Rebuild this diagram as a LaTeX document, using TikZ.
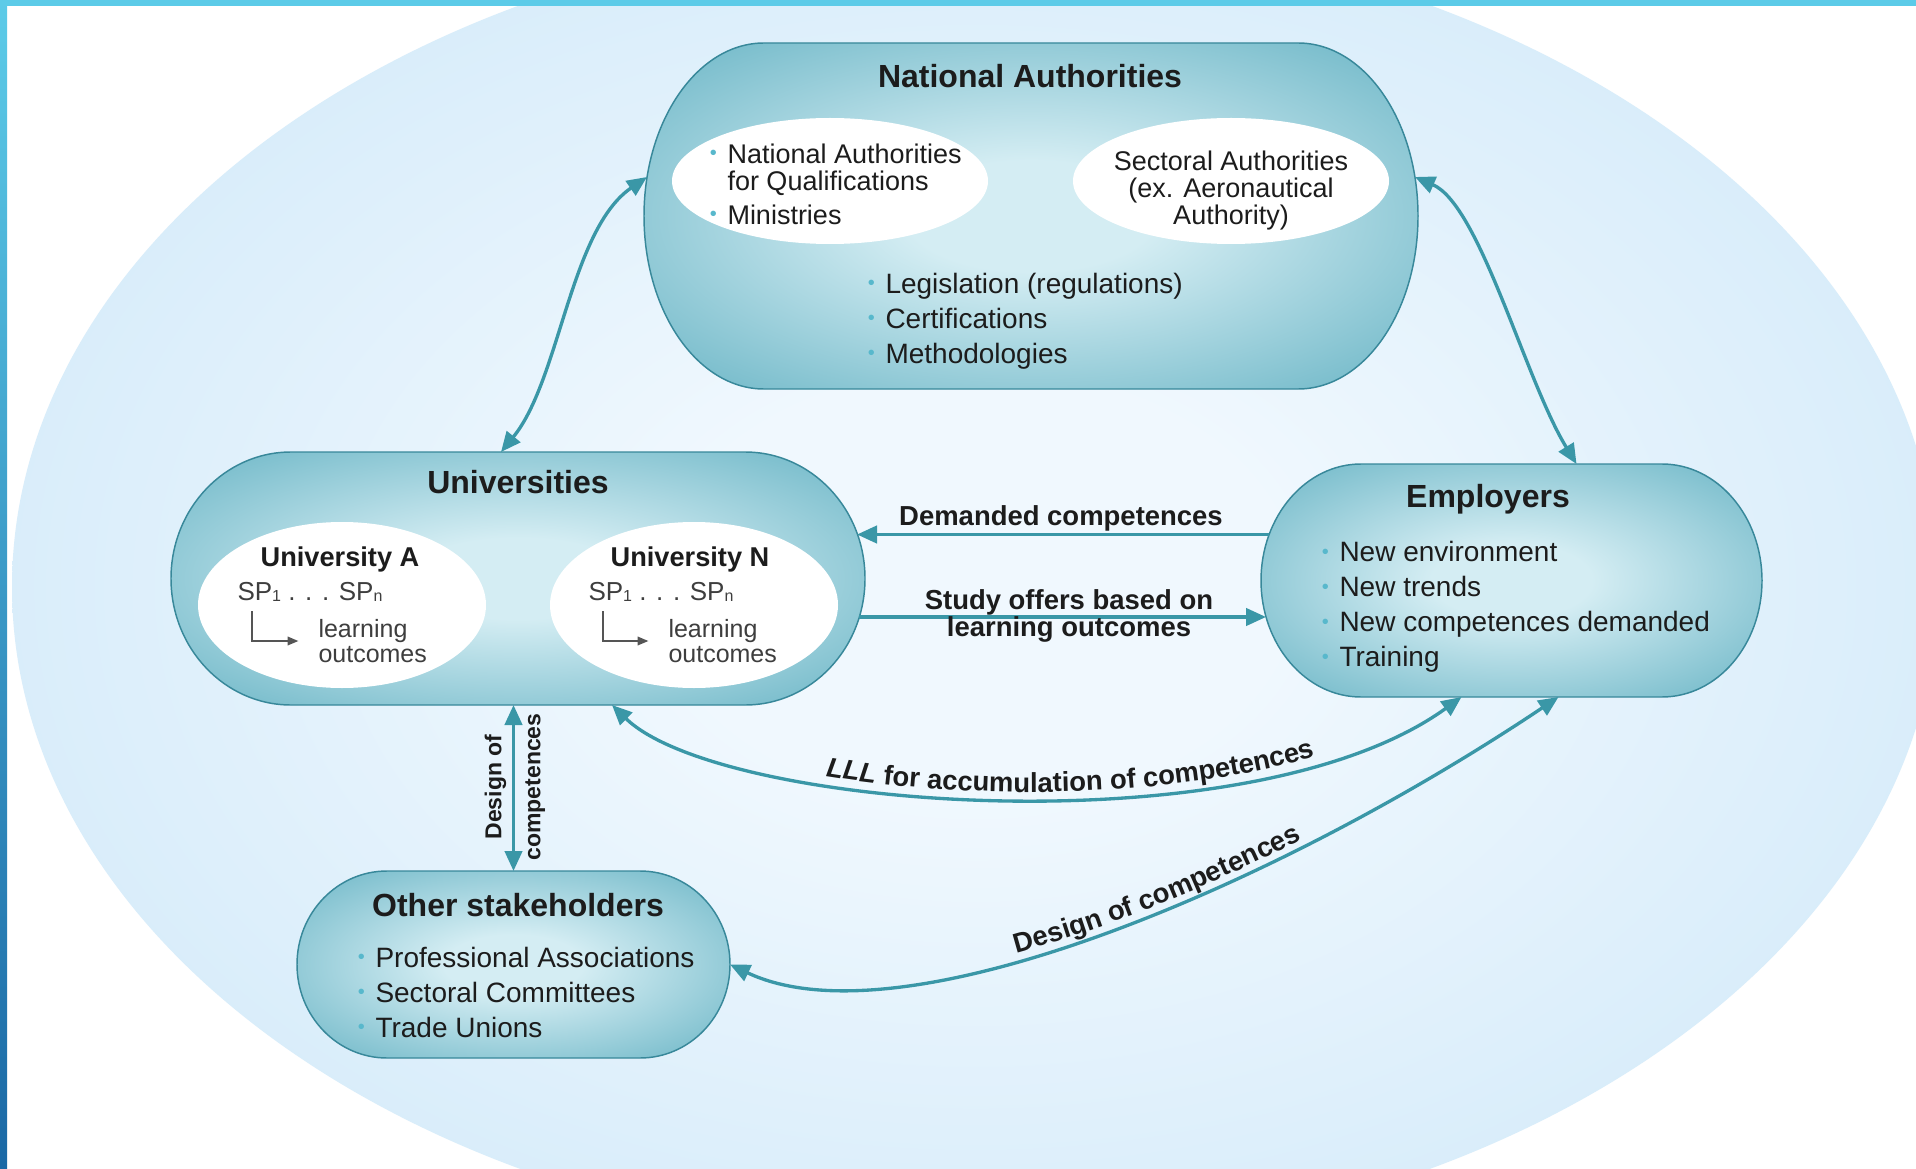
\documentclass[tikz,border=0pt]{standalone}
\usepackage{fontspec}
\setmainfont{Liberation Sans}
\usetikzlibrary{arrows.meta,calc,fit,decorations.text}

\definecolor{stripc}{RGB}{92,203,232}
\definecolor{stripd}{RGB}{26,104,165}
\definecolor{ellin}{RGB}{240,248,254}
\definecolor{ellout}{RGB}{192,225,246}
\definecolor{pillin}{RGB}{212,237,243}
\definecolor{pillout}{RGB}{70,162,182}
\definecolor{pilledge}{RGB}{56,136,154}
\definecolor{flowc}{RGB}{58,151,167}
\definecolor{bulc}{RGB}{88,184,204}
\definecolor{inkc}{RGB}{28,28,28}

\pgfdeclareradialshading{ellshade}{\pgfpoint{0bp}{0bp}}{color(0bp)=(ellin); color(8bp)=(ellin); color(44bp)=(ellout); color(72bp)=(ellout)}
\pgfdeclareradialshading{pillshade}{\pgfpoint{0bp}{0bp}}{color(0bp)=(pillin); color(8bp)=(pillin); color(45bp)=(pillout); color(72bp)=(pillout)}

\newcommand{\itembul}{\llap{\textcolor{bulc}{\raisebox{0.12em}{\fontsize{15}{15}\selectfont\textbullet}}\hspace{8pt}}}
\newcommand{\spsub}[1]{\raisebox{-1pt}{\fontsize{12}{12}\selectfont#1}}

\tikzset{every picture/.style={line width=0.75pt}}
\tikzset{
  boxarea/.style={inner sep=0pt, outer sep=0pt},
  pill/.style={shade, shading=pillshade, draw=pilledge, line width=1.1pt},
  hole/.style={fill=white},
  ttl/.style={inner sep=0.75pt, text=inkc, font=\bfseries\fontsize{24}{28}\selectfont},
  lst/.style={inner sep=0.75pt, text=inkc, align=left, font=\fontsize{21}{26.25}\selectfont},
  elltxt/.style={inner sep=0.75pt, text=inkc, font=\fontsize{20.25}{20.25}\selectfont},
  unibf/.style={inner sep=0.75pt, text=inkc, font=\bfseries\fontsize{20.4}{24}\selectfont},
  sptxt/.style={inner sep=0.75pt, text=inkc!85, font=\fontsize{19.5}{22}\selectfont},
  lotxt/.style={inner sep=0.75pt, text=inkc!85, align=left, font=\fontsize{18.75}{18.75}\selectfont},
  lbl/.style={inner sep=0.75pt, text=inkc, align=center, font=\bfseries\fontsize{20.6}{20}\selectfont},
  vlbl/.style={inner sep=0.75pt, text=inkc, align=center, font=\bfseries\fontsize{17.25}{29.25}\selectfont},
  flow/.style={draw=flowc, line width=2.5pt, >={Triangle[length=15pt,width=13pt]}},
  elbow/.style={draw=inkc!75, line width=1pt, -{Triangle[length=8pt,width=6.5pt]}, shorten >=14pt},
  curvelbl/.style={decorate, decoration={text along path, text align=center, raise=4.5pt, text color=inkc, #1}}
}

\begin{document}
\begin{tikzpicture}[x=0.75pt,y=0.75pt,yscale=-1,xscale=1]
\useasboundingbox (0,0) rectangle (1916,1169);

%Background
\fill[white] (0,0) rectangle (1916,1169);
%Shape: Ellipse
\begin{scope}
\clip (7,6) rectangle (1916,1169);
\shade[shading=ellshade] (975,587) ellipse [x radius=963, y radius=660];
\end{scope}
%Frame strips
\fill[stripc] (0,0) rectangle (1916,6);
\shade[top color=stripc, bottom color=stripd] (0,0) rectangle (7,1169);

%Box areas
\node[boxarea, fit={(644,43) (1418,389)}] (na) {};
\node[boxarea, fit={(171,452) (865,705)}] (uni) {};
\node[boxarea, fit={(1261,464) (1762,697)}] (emp) {};
\node[boxarea, fit={(297,871) (730,1058)}] (oth) {};

%Shape: Pill [National Authorities]
\draw[pill] (764,43) -- (1298,43) .. controls (1364.3,43) and (1418,120.5) .. (1418,216) .. controls (1418,311.5) and (1364.3,389) .. (1298,389) -- (764,389) .. controls (697.7,389) and (644,311.5) .. (644,216) .. controls (644,120.5) and (697.7,43) .. (764,43) -- cycle ;
%Shape: Pill [Universities]
\draw[pill] (291,452) -- (745,452) .. controls (811.3,452) and (865,508.6) .. (865,578.5) .. controls (865,648.4) and (811.3,705) .. (745,705) -- (291,705) .. controls (224.7,705) and (171,648.4) .. (171,578.5) .. controls (171,508.6) and (224.7,452) .. (291,452) -- cycle ;
%Shape: Pill [Employers]
\draw[pill] (1361,464) -- (1662,464) .. controls (1717.2,464) and (1762,516.2) .. (1762,580.5) .. controls (1762,644.8) and (1717.2,697) .. (1662,697) -- (1361,697) .. controls (1305.8,697) and (1261,644.8) .. (1261,580.5) .. controls (1261,516.2) and (1305.8,464) .. (1361,464) -- cycle ;
%Shape: Pill [Other stakeholders]
\draw[pill] (387,871) -- (640,871) .. controls (689.7,871) and (730,912.9) .. (730,964.5) .. controls (730,1016.1) and (689.7,1058) .. (640,1058) -- (387,1058) .. controls (337.3,1058) and (297,1016.1) .. (297,964.5) .. controls (297,912.9) and (337.3,871) .. (387,871) -- cycle ;

%Shape: Ellipse
\fill[hole] (830,181) ellipse [x radius=158, y radius=63];
%Shape: Ellipse
\fill[hole] (1231,181) ellipse [x radius=158, y radius=63];
%Shape: Ellipse
\fill[hole] (342,605) ellipse [x radius=144, y radius=83];
%Shape: Ellipse
\fill[hole] (694,605) ellipse [x radius=144, y radius=83];

%National Authorities
\node[ttl] (natitle) at (1030,76) {National Authorities};
\node[elltxt, anchor=west, align=left] (naqual) at (726,184) {\itembul National Authorities\\for Qualifications\\[5.25pt]\itembul Ministries};
\node[elltxt, align=center] (nasect) at (1231,191) {Sectoral Authorities\\(ex. Aeronautical\\Authority)};
\node[lst, anchor=west] (nalist) at (884,321) {\itembul Legislation (regulations)\\\itembul Certifications\\\itembul Methodologies};

%Universities
\node[ttl] (unititle) at (518,482) {Universities};
\node[unibf] (unia) at (340,559) {University A};
\node[sptxt, anchor=west] (spa) at (236,592) {SP\spsub{1} . . . SP\spsub{n}};
\node[lotxt, anchor=west] (loa) at (317,641) {learning\\outcomes};
\node[unibf] (unin) at (690,559) {University N};
\node[sptxt, anchor=west] (spn) at (587,592) {SP\spsub{1} . . . SP\spsub{n}};
\node[lotxt, anchor=west] (lon) at (667,641) {learning\\outcomes};
\draw[elbow] ($(spa.south west)+(16,8)$) |- (loa.west);
\draw[elbow] ($(spn.south west)+(16,8)$) |- (lon.west);

%Employers
\node[ttl] (emptitle) at (1488,499) {Employers};
\node[lst, anchor=west] (emplist) at (1338,607) {\itembul New environment\\\itembul New trends\\\itembul New competences demanded\\\itembul Training};

%Other stakeholders
\node[ttl] (othtitle) at (518,905) {Other stakeholders};
\node[lst, anchor=west] (othlist) at (374,992) {\itembul Professional Associations\\\itembul Sectoral Committees\\\itembul Trade Unions};

%Curve Lines
\draw[flow,<->] ($(uni.north)+(-17,0)$) .. controls (560,380) and (570,230) .. ($(na.west)+(3,-39)$);
%Curve Lines
\draw[flow,<->] ($(na.east)+(-3,-39)$) .. controls (1480,205) and (1525,380) .. ($(emp.north)+(65,0)$);
%Straight Lines
\draw[flow,->] ($(emp.west)+(8,-46)$) -- ($(uni.east)+(-8,-44)$);
\node[lbl] (demlbl) at (1061,518) {Demanded competences};
%Straight Lines
\draw[flow,->] ($(uni.east)+(-6,38.5)$) -- ($(emp.west)+(5,36.5)$);
\node[lbl] (studylbl) at (1069,616) {Study offers based on\\learning outcomes};
%Straight Lines
\draw[flow,<->] (oth.north |- uni.south) -- (oth.north);
\node[vlbl, rotate=90] (desvlbl) at (515,787) {Design of\\competences};
%Curve Lines
\draw[flow,<->] ($(uni.south)+(94,0)$) .. controls (720,810) and (1250,850) .. ($(emp.south)+(-50,0)$);
\path[curvelbl={text={|\bfseries\itshape\fontsize{20.6}{24}\selectfont|LLL|\bfseries\upshape\fontsize{20.6}{24}\selectfont| for accumulation of competences}, text align={left indent=52pt}}] ($(uni.south)+(94,0)$) .. controls (720,810) and (1250,850) .. ($(emp.south)+(-50,0)$);
%Curve Lines
\draw[flow,<->] (oth.east) .. controls (900,1045) and (1270,890) .. ($(emp.south)+(47,0)$);
\path[curvelbl={text={|\bfseries\fontsize{20.6}{24}\selectfont|Design of competences}}] (oth.east) .. controls (900,1045) and (1270,890) .. ($(emp.south)+(47,0)$);

\end{tikzpicture}
\end{document}
